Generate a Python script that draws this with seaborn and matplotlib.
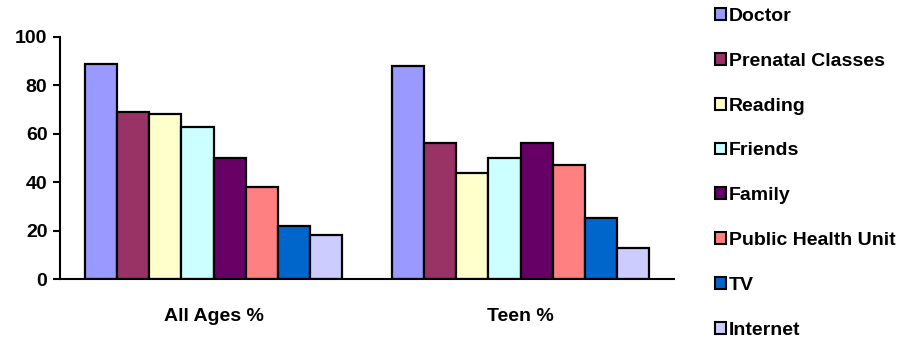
import matplotlib
matplotlib.use("Agg")
import matplotlib.pyplot as plt
from matplotlib.patches import Patch
import seaborn as sns
import pandas as pd

groups = ["All Ages %", "Teen %"]
sources = ["Doctor", "Prenatal Classes", "Reading", "Friends", "Family",
           "Public Health Unit", "TV", "Internet"]
all_ages = [89, 69, 68, 63, 50, 38, 22, 18]
teen = [88, 56, 44, 50, 56, 47, 25, 13]
colors = ["#9999FF", "#993366", "#FFFFCC", "#CCFFFF", "#660066",
          "#FF8080", "#0066CC", "#CCCCFF"]
yticks = [0, 20, 40, 60, 80, 100]

df = pd.DataFrame({
    "group": [groups[0]] * len(sources) + [groups[1]] * len(sources),
    "source": sources * 2,
    "value": all_ages + teen,
})

sns.set_theme(style="white")
plt.rcParams["font.family"] = ["Liberation Sans", "DejaVu Sans"]
plt.rcParams["font.weight"] = "bold"
plt.rcParams["text.color"] = "black"
plt.rcParams["xtick.color"] = "black"
plt.rcParams["ytick.color"] = "black"
plt.rcParams["xtick.labelcolor"] = "black"
plt.rcParams["ytick.labelcolor"] = "black"

FS = 14
W, H = 914, 341
fig = plt.figure(figsize=(W / 100, H / 100), dpi=100)
ax = fig.add_axes([60 / W, (H - 279) / H, 614 / W, 242 / H])

sns.barplot(data=df, x="group", y="value", hue="source", order=groups,
            hue_order=sources, palette=colors, edgecolor="black",
            linewidth=1.6, width=0.837, gap=0, ax=ax, legend=False,
            errorbar=None, saturation=1)

ax.set_xlim(-0.5, 1.5)
ax.set_ylim(0, 100)
ax.set_yticks(yticks)
ax.set_yticklabels([str(t) for t in yticks], fontsize=FS, fontweight="bold",
                   color="black")
ax.set_xticklabels(groups, fontsize=FS, fontweight="bold", color="black")
ax.set_xlabel("")
ax.set_ylabel("")
ax.tick_params(axis="y", direction="out", length=5, width=1.5, color="black",
               left=True, pad=4)
ax.tick_params(axis="x", length=0, pad=21)
for side in ("top", "right"):
    ax.spines[side].set_visible(False)
for side in ("left", "bottom"):
    ax.spines[side].set_color("black")
    ax.spines[side].set_linewidth(1.5)

handles = [Patch(facecolor=c, edgecolor="black", linewidth=1.5) for c in colors]
fig.legend(handles, sources, loc="upper left",
           bbox_to_anchor=(715 / W, 1 - 8 / H), frameon=False,
           prop={"size": FS, "weight": "bold"}, handlelength=0.55,
           handleheight=0.55, handletextpad=0.15, labelspacing=1.43,
           borderaxespad=0, borderpad=0, labelcolor="black")

fig.savefig("out.png", dpi=100)
